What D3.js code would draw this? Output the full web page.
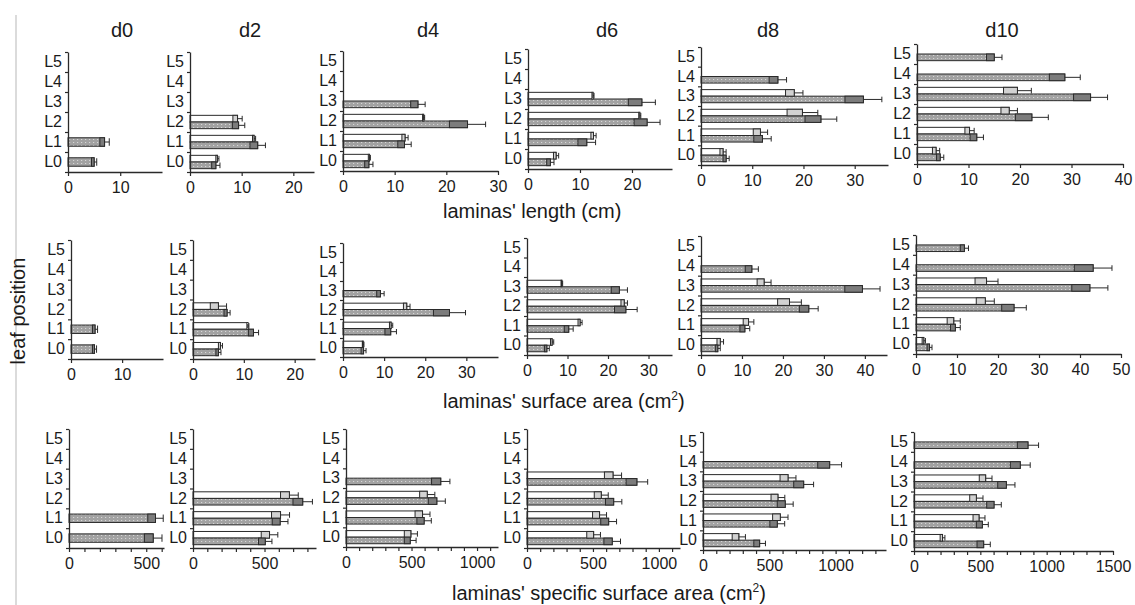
<!DOCTYPE html>
<html><head><meta charset="utf-8">
<script src="https://cdn.jsdelivr.net/npm/d3@7"></script>
<style>
body{margin:0;background:#fff}
svg{display:block}
text{font-family:"Liberation Sans",Arial,sans-serif;fill:#1a1a1a}
</style>
</head><body>
<svg id="c" width="1135" height="605"></svg>
<script>
// ---------- DATA ----------
const days = ["d0","d2","d4","d6","d8","d10"];
const leaves = ["L0","L1","L2","L3","L4","L5"];
const seriesKeys = ["white","gray"];
const rowTitles = ["laminas' length (cm)", "laminas' surface area (cm", "laminas' specific surface area (cm"];
const yTitle = "leaf position";
const _ = null;

// laminas' length (cm)
const lengthWhiteMean = [
  [_,_,_,_,_,_],
  [5.3,12.4,9.2,_,_,_],
  [5.1,12.0,15.6,_,_,_],
  [5.4,12.6,21.5,12.5,_,_],
  [4.3,11.6,19.8,18.2,_,_],
  [3.7,10.2,17.9,19.5,_,_]];
const lengthWhiteErr = [
  [_,_,_,_,_,_],
  [0.3,0.3,0.9,_,_,_],
  [0.2,0.6,0.2,_,_,_],
  [0.5,0.5,0.2,0.2,_,_],
  [0.6,1.4,3.0,1.7,_,_],
  [0.7,0.9,1.6,2.7,_,_]];
const lengthGrayMean = [
  [5.0,7.0,_,_,_,_],
  [5.0,13.1,9.4,_,_,_],
  [5.0,11.9,24.1,14.5,_,_],
  [4.3,11.3,22.9,21.9,_,_],
  [4.9,12.0,23.4,31.7,15.0,_],
  [4.5,11.6,22.3,33.7,28.7,15.0]];
const lengthGrayErr = [
  [0.5,0.9,_,_,_,_],
  [0.8,1.5,1.2,_,_,_],
  [0.8,1.3,3.5,1.4,_,_],
  [0.7,1.7,2.5,2.6,_,_],
  [0.6,1.7,3.1,3.6,1.7,_],
  [0.7,1.3,3.2,3.3,3.0,1.5]];

// laminas' surface area (cm2)
const areaWhiteMean = [
  [_,_,_,_,_,_],
  [5.4,10.8,5.0,_,_,_],
  [4.9,11.7,15.5,_,_,_],
  [6.2,13.1,24.0,8.6,_,_],
  [4.7,11.6,21.6,15.4,_,_],
  [1.9,9.2,16.9,17.2,_,_]];
const areaWhiteErr = [
  [_,_,_,_,_,_],
  [0.4,0.2,1.6,_,_,_],
  [0.2,0.4,0.8,_,_,_],
  [0.4,0.5,0.8,0.2,_,_],
  [0.8,1.3,2.9,1.7,_,_],
  [0.4,1.6,2.2,2.8,_,_]];
const areaGrayMean = [
  [4.6,4.7,_,_,_,_],
  [5.0,11.9,6.7,_,_,_],
  [5.0,11.6,25.9,9.1,_,_],
  [4.9,10.3,24.4,22.8,_,_],
  [4.1,10.7,26.3,39.4,12.4,_],
  [3.3,9.6,23.9,42.4,43.2,11.8]];
const areaGrayErr = [
  [0.4,0.5,_,_,_,_],
  [0.5,1.0,0.6,_,_,_],
  [0.6,1.4,3.9,0.9,_,_],
  [0.6,1.1,2.8,2.0,_,_],
  [0.6,1.2,2.3,4.3,1.6,_],
  [0.6,1.2,3.0,4.4,4.6,1.0]];

// laminas' specific surface area (cm2)
const ssaWhiteMean = [
  [_,_,_,_,_,_],
  [535,612,674,_,_,_],
  [495,584,620,_,_,_],
  [505,550,563,652,_,_],
  [270,583,565,641,_,_],
  [215,490,470,540,_,_]];
const ssaWhiteErr = [
  [_,_,_,_,_,_],
  [58,63,62,_,_,_],
  [50,57,58,_,_,_],
  [52,53,53,65,_,_],
  [50,58,52,60,_,_],
  [18,45,50,48,_,_]];
const ssaGrayMean = [
  [545,560,_,_,_,_],
  [505,609,767,_,_,_],
  [490,596,693,723,_,_],
  [646,619,657,833,_,_],
  [427,560,620,759,955,_],
  [525,515,603,696,801,859]];
const ssaGrayErr = [
  [57,50,_,_,_,_],
  [47,55,68,_,_,_],
  [45,55,65,70,_,_],
  [63,60,62,82,_,_],
  [44,56,60,75,90,_],
  [50,45,55,65,75,80]];

// axis extents (value units) and tick steps
const axisMax = [[18,24,30,27.7,36.5,40],[18,24,37.7,35.8,45.4,50],[615,860,1160,1160,1380,1500]];
const majorStep = [10,10,500];
const minorStep = [null,null,100];

// ---------- LAYOUT ----------
const rowTop    = [[52,52,51,49,47,44],[240,240,243,238,236,235],[429,429,429,429,432,432]];
const rowBottom = [[172,172,171,169,165,164],[359,359,357,355,355,354],[548,548,547,548,550,551]];
const panelLeft = [[68,190,343,528,701,917],[71,193,343,527,701,916],[69,193,346,527,703,914]];
const panelRight= [[162,314,498,672,888,1123],[163,315,498,672,887,1121],[164,316,498,680,886,1113]];
const titleX = [122,250,428,607,768,1002];
const rowTitlePos = [[443,218],[443,408],[452,600]];

const rows = [
  {wm:lengthWhiteMean, we:lengthWhiteErr, gm:lengthGrayMean, ge:lengthGrayErr},
  {wm:areaWhiteMean, we:areaWhiteErr, gm:areaGrayMean, ge:areaGrayErr},
  {wm:ssaWhiteMean, we:ssaWhiteErr, gm:ssaGrayMean, ge:ssaGrayErr}
];

const svg = d3.select("#c");
const defs = svg.append("defs");
const pat = defs.append("pattern").attr("id","dots").attr("width",4).attr("height",3)
  .attr("patternUnits","userSpaceOnUse");
pat.append("rect").attr("width",4).attr("height",3).attr("fill","#a2a2a2");
pat.append("rect").attr("x",1).attr("y",1).attr("width",1.2).attr("height",1).attr("fill","#d6d6d6");

// left frame line
svg.append("line").attr("x1",16).attr("x2",16).attr("y1",15).attr("y2",605)
  .attr("stroke","#cfcfcf").attr("stroke-width",1.5);

// day titles
svg.selectAll("text.day").data(days).join("text").attr("class","day")
  .attr("x",(d,i)=>titleX[i]).attr("y",37).attr("text-anchor","middle")
  .attr("font-size",20).text(d=>d);

// row titles
rowTitles.forEach((t,r)=>{
  const tx = svg.append("text").attr("x",rowTitlePos[r][0]).attr("y",rowTitlePos[r][1])
    .attr("font-size",20);
  tx.append("tspan").text(t);
  if(r>0){
    tx.append("tspan").attr("font-size",12).attr("dy",-8).text("2");
    tx.append("tspan").attr("dy",8).text(")");
  }
});
svg.append("text").attr("transform","translate(25,311) rotate(-90)")
  .attr("text-anchor","middle").attr("font-size",20).text(yTitle);

const ink = "#2a2a2a";

rows.forEach((row,r)=>{
  days.forEach((day,c)=>{
    const top = rowTop[r][c], bottom = rowBottom[r][c];
    const x0 = panelLeft[r][c], x1 = panelRight[r][c];
    const x = d3.scaleLinear().domain([0,axisMax[r][c]]).range([x0,x1]);
    const yb = d3.scaleBand().domain(leaves).range([bottom,top]);
    const yl = d3.scaleLinear().domain([0,leaves.length]).range([bottom,top]);
    const g = svg.append("g");

    const recs = [];
    leaves.forEach((L,i)=>{
      const wm=row.wm[c][i], we=row.we[c][i], gm=row.gm[c][i], ge=row.ge[c][i];
      if(wm!=null) recs.push({leaf:L,s:"white",m:wm,e:we});
      if(gm!=null) recs.push({leaf:L,s:"gray",m:gm,e:ge});
    });
    const present = seriesKeys.filter(s=>recs.some(d=>d.s===s));
    const inner = d3.scaleBand().domain(present).range([0,yb.bandwidth()])
      .paddingInner(0).paddingOuter(present.length>1?0.5:0.68);
    const h = inner.bandwidth();
    const yy = d=>yb(d.leaf)+inner(d.s);

    // bars
    g.selectAll("rect.bar").data(recs).join("rect")
      .attr("x",x(0)).attr("y",yy).attr("height",h)
      .attr("width",d=>x(d.m)-x(0))
      .attr("fill",d=>d.s==="white"?"#fff":"url(#dots)")
      .attr("stroke",ink).attr("stroke-width",1);
    // error boxes
    g.selectAll("rect.eb").data(recs).join("rect")
      .attr("x",d=>x(Math.max(0,d.m-d.e))).attr("y",yy).attr("height",h)
      .attr("width",d=>x(d.m)-x(Math.max(0,d.m-d.e)))
      .attr("fill",d=>d.s==="white"?"#d2d2d2":"#7c7c7c")
      .attr("stroke",ink).attr("stroke-width",1);
    // whiskers
    g.selectAll("line.wh").data(recs).join("line")
      .attr("x1",d=>x(d.m)).attr("x2",d=>x(d.m+d.e))
      .attr("y1",d=>yy(d)+h/2).attr("y2",d=>yy(d)+h/2)
      .attr("stroke",ink).attr("stroke-width",1);
    g.selectAll("line.cap").data(recs).join("line")
      .attr("x1",d=>x(d.m+d.e)).attr("x2",d=>x(d.m+d.e))
      .attr("y1",d=>yy(d)+0.5).attr("y2",d=>yy(d)+h-0.5)
      .attr("stroke",ink).attr("stroke-width",1);

    // x axis
    const maj = d3.range(0,axisMax[r][c]+1e-6,majorStep[r]);
    const tv = minorStep[r] ? d3.range(0,axisMax[r][c]+1e-6,minorStep[r]) : maj;
    const xa = g.append("g").attr("transform",`translate(0,${bottom})`)
      .call(d3.axisBottom(x).tickValues(tv).tickSize(4).tickSizeOuter(0).tickPadding(6)
        .tickFormat(v=>maj.some(m=>Math.abs(m-v)<1e-6)?d3.format("d")(v):""));
    // y axis ticks at band boundaries
    const ya = g.append("g").attr("transform",`translate(${x0},0)`)
      .call(d3.axisLeft(yl).tickValues(d3.range(0,leaves.length+1)).tickSize(3).tickSizeOuter(0).tickFormat(""));
    // y labels
    const yLab = g.append("g").attr("transform",`translate(${x0},0)`)
      .call(d3.axisLeft(yb).tickSize(0).tickPadding(6));
    yLab.select(".domain").remove();
    [xa,ya].forEach(a=>{
      a.select(".domain").attr("stroke",ink).attr("stroke-width",1.3);
      a.selectAll(".tick line").attr("stroke",ink).attr("stroke-width",1.2);
    });
    g.selectAll(".tick text").attr("font-size",16)
      .attr("font-family",'"Liberation Sans",Arial,sans-serif').attr("fill","#1a1a1a");
  });
});
</script>
</body></html>
